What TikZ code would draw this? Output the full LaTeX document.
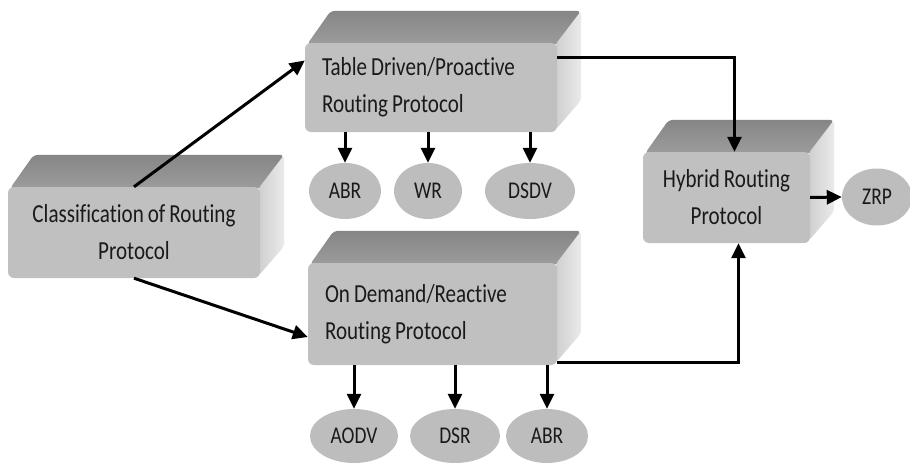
\documentclass[tikz,border=0pt]{standalone}
\usepackage{fontspec}
\setmainfont{Carlito}[FakeStretch=0.81,WordSpace=0.85,Ligatures=NoCommon]
\usetikzlibrary{arrows.meta,backgrounds,shapes.geometric,calc}
\definecolor{facefront}{HTML}{C0C0C0}
\definecolor{facetopA}{HTML}{868686}
\definecolor{facetopB}{HTML}{9C9C9C}
\definecolor{facesideA}{HTML}{CFCFCF}
\definecolor{facesideB}{HTML}{EAEAEA}
\definecolor{ovalfill}{HTML}{BDBDBD}
\definecolor{ink}{HTML}{1A1A1A}

\tikzset{
  front/.style={fill=facefront, rounded corners=6pt, inner sep=0pt,
    font=\fontsize{26}{37}\selectfont, text=ink},
  oval/.style={ellipse, fill=ovalfill, inner sep=0pt,
    font=\fontsize{24}{24}\selectfont, text=ink},
  link/.style={line width=3pt, draw=black,
    -{Triangle[length=15pt,width=14pt]}},
}

% top and side faces of a block whose front face is node #1
\newcommand\blockfaces[1]{%
  \begin{scope}[on background layer]
    \shade[top color=facetopA, bottom color=facetopB, rounded corners=4pt]
      ($(#1.north west)+(2,2)$) -- ($(#1.north west)+(26,-32)$)
      -- ($(#1.north east)+(24,-32)$) -- ($(#1.north east)+(0,2)$) -- cycle;
    \shade[left color=facesideA, right color=facesideB, rounded corners=4pt]
      ($(#1.north east)+(-2,2)$) -- ($(#1.north east)+(24,-32)$)
      -- ($(#1.south east)+(24,-32)$) -- ($(#1.south east)+(-2,-2)$) -- cycle;
  \end{scope}}

\begin{document}
\begin{tikzpicture}[x=1pt,y=-1pt]
  \begin{scope}[on background layer]
    \fill[white] (0,0) rectangle (910,463);
  \end{scope}
  \useasboundingbox (0,0) rectangle (910,463);

  % blocks
  \node[front, minimum width=252pt, minimum height=91pt, align=center]
    (cls) at (134,232.5) {Classification of Routing\\Protocol};
  \node[front, minimum width=252pt, minimum height=89pt,
    text width=218pt, inner xsep=17pt, align=flush left]
    (tab) at (431,87.5) {Table Driven/Proactive\\Routing Protocol};
  \node[front, minimum width=249pt, minimum height=102pt,
    text width=215pt, inner xsep=17pt, align=flush left]
    (ond) at (432.5,314) {On Demand/Reactive\\Routing Protocol};
  \node[front, minimum width=167pt, minimum height=91pt, align=center]
    (hyb) at (726.5,197.5) {Hybrid Routing\\Protocol};

  \blockfaces{cls}
  \blockfaces{tab}
  \blockfaces{ond}
  \blockfaces{hyb}

  % protocols
  \node[oval, minimum width=72pt, minimum height=56pt] (abrA) at (345,191) {ABR};
  \node[oval, minimum width=68pt, minimum height=56pt] (wr) at (428,191) {WR};
  \node[oval, minimum width=90pt, minimum height=56pt] (dsdv) at (530,191) {DSDV};
  \node[oval, minimum width=88pt, minimum height=54pt] (aodv) at (354,436) {AODV};
  \node[oval, minimum width=90pt, minimum height=54pt] (dsr) at (455,436) {DSR};
  \node[oval, minimum width=82pt, minimum height=54pt] (abrB) at (547,436) {ABR};
  \node[oval, minimum width=70pt, minimum height=57pt] (zrp) at (877,197) {ZRP};

  % connectors
  \draw[link] (cls.north) -- ([yshift=27pt]tab.west);
  \draw[link] (cls.south) -- ([yshift=-23pt]ond.west);

  \draw[link] (abrA.north |- tab.south) -- (abrA.north);
  \draw[link] (wr.north |- tab.south) -- (wr.north);
  \draw[link] (dsdv.north |- tab.south) -- (dsdv.north);

  \draw[link] (aodv.north |- ond.south) -- (aodv.north);
  \draw[link] (dsr.north |- ond.south) -- (dsr.north);
  \draw[link] (abrB.north |- ond.south) -- (abrB.north);

  \draw[link] ([yshift=30pt]tab.east) -| ([xshift=8pt]hyb.north);
  \draw[link] ([yshift=-48pt]ond.east) -| ([xshift=12pt]hyb.south);
  \draw[link] (hyb.east) -- (zrp.west);
\end{tikzpicture}
\end{document}
